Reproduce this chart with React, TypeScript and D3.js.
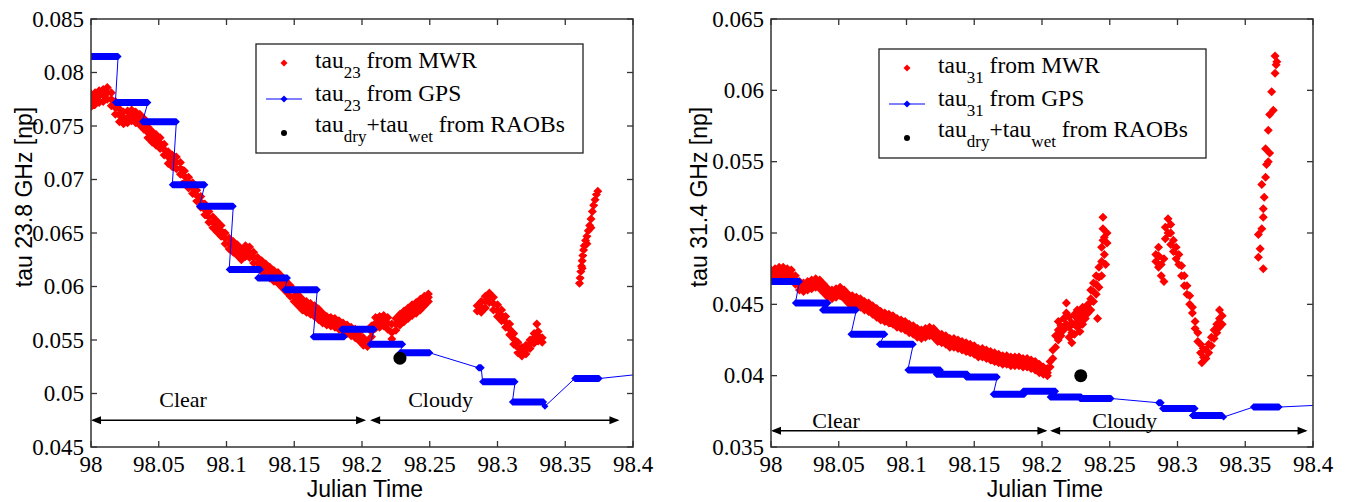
import React from 'react'
import * as d3 from 'd3'

const SERIF = '"Liberation Serif", "Times New Roman", serif'
const SANS = '"Liberation Sans", Arial, sans-serif'

const timeTicks = [98, 98.05, 98.1, 98.15, 98.2, 98.25, 98.3, 98.35, 98.4]
const timeTickLabels = ['98', '98.05', '98.1', '98.15', '98.2', '98.25', '98.3', '98.35', '98.4']
const tau23Ticks = [0.045, 0.05, 0.055, 0.06, 0.065, 0.07, 0.075, 0.08, 0.085]
const tau23TickLabels = ['0.045', '0.05', '0.055', '0.06', '0.065', '0.07', '0.075', '0.08', '0.085']
const tau31Ticks = [0.035, 0.04, 0.045, 0.05, 0.055, 0.06, 0.065]
const tau31TickLabels = ['0.035', '0.04', '0.045', '0.05', '0.055', '0.06', '0.065']

// MWR samples: [julian time, tau samples at that time...]
const mwr23: number[][] = [
  [98.000, 0.0768, 0.0774, 0.0780], [98.003, 0.0770, 0.0776, 0.0781], [98.006, 0.0772, 0.0778, 0.0783],
  [98.009, 0.0773, 0.0779, 0.0784], [98.012, 0.0775, 0.0781, 0.0786], [98.015, 0.0769, 0.0775, 0.0781],
  [98.018, 0.0761, 0.0767, 0.0773], [98.021, 0.0754, 0.0760, 0.0766], [98.024, 0.0752, 0.0757, 0.0763],
  [98.027, 0.0753, 0.0758, 0.0764], [98.030, 0.0755, 0.0760, 0.0765], [98.033, 0.0753, 0.0758, 0.0763],
  [98.036, 0.0751, 0.0756, 0.0761], [98.039, 0.0747, 0.0752, 0.0757], [98.042, 0.0739, 0.0744, 0.0749],
  [98.045, 0.0735, 0.0740, 0.0745], [98.048, 0.0732, 0.0737, 0.0742], [98.051, 0.0729, 0.0734, 0.0739],
  [98.054, 0.0723, 0.0728, 0.0733], [98.057, 0.0715, 0.0721, 0.0726], [98.060, 0.0712, 0.0718, 0.0723],
  [98.063, 0.0710, 0.0716, 0.0721], [98.066, 0.0705, 0.0711, 0.0716], [98.069, 0.0698, 0.0703, 0.0708],
  [98.072, 0.0692, 0.0697, 0.0702], [98.075, 0.0687, 0.0692, 0.0697], [98.078, 0.0680, 0.0685, 0.0690],
  [98.081, 0.0674, 0.0679, 0.0684], [98.084, 0.0667, 0.0672, 0.0677], [98.087, 0.0660, 0.0665, 0.0670],
  [98.090, 0.0655, 0.0660, 0.0665], [98.093, 0.0651, 0.0656, 0.0661], [98.096, 0.0647, 0.0652, 0.0657],
  [98.099, 0.0640, 0.0645, 0.0650], [98.102, 0.0635, 0.0640, 0.0645], [98.105, 0.0632, 0.0637, 0.0642],
  [98.108, 0.0629, 0.0634, 0.0639], [98.111, 0.0625, 0.0630, 0.0635], [98.114, 0.0628, 0.0633, 0.0638],
  [98.117, 0.0627, 0.0632, 0.0637], [98.120, 0.0622, 0.0627, 0.0632], [98.123, 0.0617, 0.0622, 0.0627],
  [98.126, 0.0614, 0.0619, 0.0624], [98.129, 0.0611, 0.0616, 0.0621], [98.132, 0.0608, 0.0613, 0.0618],
  [98.135, 0.0605, 0.0610, 0.0615], [98.138, 0.0603, 0.0608, 0.0613], [98.141, 0.0599, 0.0604, 0.0609],
  [98.144, 0.0595, 0.0600, 0.0605], [98.147, 0.0591, 0.0596, 0.0601], [98.150, 0.0586, 0.0591, 0.0596],
  [98.153, 0.0582, 0.0587, 0.0592], [98.156, 0.0578, 0.0583, 0.0588], [98.159, 0.0576, 0.0581, 0.0586],
  [98.162, 0.0574, 0.0579, 0.0584], [98.165, 0.0572, 0.0577, 0.0582], [98.168, 0.0569, 0.0574, 0.0579],
  [98.171, 0.0566, 0.0570, 0.0575], [98.174, 0.0564, 0.0568, 0.0572], [98.177, 0.0563, 0.0567, 0.0571],
  [98.180, 0.0562, 0.0566, 0.0570], [98.183, 0.0560, 0.0564, 0.0568], [98.186, 0.0558, 0.0562, 0.0566],
  [98.189, 0.0556, 0.0560, 0.0564], [98.192, 0.0554, 0.0558, 0.0562], [98.195, 0.0552, 0.0556, 0.0560],
  [98.198, 0.0549, 0.0553, 0.0557], [98.201, 0.0545, 0.0548, 0.0552], [98.204, 0.0544, 0.0546, 0.0549],
  [98.207, 0.0553, 0.0558, 0.0563], [98.210, 0.0561, 0.0566, 0.0571], [98.213, 0.0562, 0.0567, 0.0572],
  [98.216, 0.0563, 0.0568, 0.0573], [98.219, 0.0560, 0.0566, 0.0571], [98.222, 0.0551, 0.0557, 0.0565],
  [98.225, 0.0559, 0.0565, 0.0570], [98.228, 0.0564, 0.0569, 0.0574], [98.231, 0.0567, 0.0572, 0.0577],
  [98.234, 0.0570, 0.0575, 0.0580], [98.237, 0.0573, 0.0578, 0.0583], [98.240, 0.0575, 0.0580, 0.0585],
  [98.243, 0.0578, 0.0583, 0.0588], [98.246, 0.0582, 0.0587, 0.0591], [98.249, 0.0586, 0.0590, 0.0593],
  [98.285, 0.0577, 0.0582], [98.288, 0.0576, 0.0581, 0.0586], [98.291, 0.0580, 0.0586, 0.0591],
  [98.294, 0.0585, 0.0590, 0.0594], [98.297, 0.0578, 0.0584, 0.0590], [98.300, 0.0572, 0.0577, 0.0583],
  [98.303, 0.0568, 0.0573, 0.0578], [98.306, 0.0562, 0.0567, 0.0572], [98.309, 0.0555, 0.0560, 0.0565],
  [98.312, 0.0546, 0.0551, 0.0556], [98.315, 0.0538, 0.0543, 0.0548], [98.318, 0.0535, 0.0539, 0.0543],
  [98.321, 0.0537, 0.0541, 0.0545], [98.324, 0.0542, 0.0546, 0.0550], [98.327, 0.0547, 0.0552, 0.0556],
  [98.329, 0.0565], [98.330, 0.0549, 0.0554, 0.0558], [98.333, 0.0548, 0.0552],
  [98.3605, 0.0603], [98.361, 0.0608], [98.3615, 0.0614], [98.362, 0.0619], [98.3625, 0.0617, 0.0624],
  [98.363, 0.0629], [98.3635, 0.0634], [98.364, 0.0638], [98.365, 0.0643], [98.366, 0.0640, 0.0647],
  [98.367, 0.0652], [98.368, 0.0657], [98.369, 0.0655, 0.0663], [98.370, 0.0670], [98.371, 0.0676],
  [98.372, 0.0681], [98.373, 0.0686], [98.374, 0.0689],
]

const mwr31: number[][] = [
  [98.000, 0.0468, 0.0471, 0.0474], [98.003, 0.0469, 0.0472, 0.0475], [98.006, 0.0470, 0.0473, 0.0476],
  [98.009, 0.0470, 0.0473, 0.0476], [98.012, 0.0469, 0.0472, 0.0475], [98.015, 0.0468, 0.0471, 0.0474],
  [98.018, 0.0464, 0.0467, 0.0470], [98.021, 0.0460, 0.0463, 0.0466], [98.024, 0.0459, 0.0462, 0.0465],
  [98.027, 0.0460, 0.0463, 0.0466], [98.030, 0.0461, 0.0464, 0.0467], [98.033, 0.0462, 0.0465, 0.0468],
  [98.036, 0.0461, 0.0464, 0.0467], [98.039, 0.0458, 0.0461, 0.0464], [98.042, 0.0455, 0.0458, 0.0461],
  [98.045, 0.0454, 0.0457, 0.0460], [98.048, 0.0455, 0.0458, 0.0461], [98.051, 0.0456, 0.0459, 0.0462],
  [98.054, 0.0454, 0.0457, 0.0460], [98.057, 0.0451, 0.0454, 0.0457], [98.060, 0.0450, 0.0453, 0.0456],
  [98.063, 0.0449, 0.0452, 0.0455], [98.066, 0.0448, 0.0451, 0.0454], [98.069, 0.0446, 0.0449, 0.0452],
  [98.072, 0.0445, 0.0448, 0.0451], [98.075, 0.0443, 0.0446, 0.0449], [98.078, 0.0441, 0.0444, 0.0447],
  [98.081, 0.0439, 0.0442, 0.0445], [98.084, 0.0438, 0.0441, 0.0444], [98.087, 0.0437, 0.0440, 0.0443],
  [98.090, 0.0436, 0.0439, 0.0442], [98.093, 0.0434, 0.0437, 0.0440], [98.096, 0.0433, 0.0436, 0.0439],
  [98.099, 0.0432, 0.0435, 0.0438], [98.102, 0.0430, 0.0433, 0.0436], [98.105, 0.0429, 0.0432, 0.0435],
  [98.108, 0.0427, 0.0430, 0.0433], [98.111, 0.0426, 0.0429, 0.0432], [98.114, 0.0427, 0.0430, 0.0433],
  [98.117, 0.0428, 0.0431, 0.0434], [98.120, 0.0427, 0.0430, 0.0433], [98.123, 0.0424, 0.0427, 0.0430],
  [98.126, 0.0423, 0.0426, 0.0429], [98.129, 0.0422, 0.0425, 0.0428], [98.132, 0.0420, 0.0423, 0.0426],
  [98.135, 0.0420, 0.0423, 0.0426], [98.138, 0.0419, 0.0422, 0.0425], [98.141, 0.0418, 0.0421, 0.0424],
  [98.144, 0.0417, 0.0420, 0.0423], [98.147, 0.0416, 0.0419, 0.0422], [98.150, 0.0415, 0.0418, 0.0421],
  [98.153, 0.0413, 0.0416, 0.0419], [98.156, 0.0413, 0.0416, 0.0419], [98.159, 0.0412, 0.0415, 0.0418],
  [98.162, 0.0411, 0.0414, 0.0417], [98.165, 0.0410, 0.0413, 0.0416], [98.168, 0.0409, 0.0412, 0.0415],
  [98.171, 0.0408, 0.0411, 0.0414], [98.174, 0.0408, 0.0411, 0.0414], [98.177, 0.0407, 0.0410, 0.0413],
  [98.180, 0.0407, 0.0410, 0.0413], [98.183, 0.0407, 0.0410, 0.0413], [98.186, 0.0406, 0.0409, 0.0412],
  [98.189, 0.0406, 0.0409, 0.0412], [98.192, 0.0405, 0.0408, 0.0411], [98.195, 0.0404, 0.0407, 0.0410],
  [98.198, 0.0402, 0.0405, 0.0408], [98.201, 0.0401, 0.0403, 0.0406], [98.204, 0.0400, 0.0402, 0.0405],
  [98.206, 0.0406, 0.0410], [98.208, 0.0412, 0.0418], [98.210, 0.0420, 0.0428], [98.212, 0.0425, 0.0432, 0.0438],
  [98.214, 0.0428, 0.0435], [98.216, 0.0432, 0.0440], [98.218, 0.0436, 0.0444, 0.0451], [98.220, 0.0427, 0.0434, 0.0441],
  [98.222, 0.0423, 0.0430, 0.0437], [98.224, 0.0429, 0.0436, 0.0443], [98.226, 0.0434, 0.0440, 0.0446],
  [98.228, 0.0431, 0.0438, 0.0445], [98.230, 0.0436, 0.0442, 0.0448], [98.232, 0.0440, 0.0446],
  [98.234, 0.0444, 0.0450], [98.236, 0.0446, 0.0454, 0.0460], [98.238, 0.0452, 0.0459, 0.0465],
  [98.240, 0.0457, 0.0464, 0.0470], [98.241, 0.0440], [98.242, 0.0462, 0.0469, 0.0476],
  [98.244, 0.0470, 0.0480, 0.0490], [98.245, 0.0495, 0.0503, 0.0511], [98.246, 0.0485, 0.0497],
  [98.247, 0.0478], [98.248, 0.0493, 0.0500],
  [98.284, 0.0480, 0.0485], [98.286, 0.0476, 0.0484, 0.0490], [98.288, 0.0470, 0.0478], [98.290, 0.0466, 0.0482],
  [98.291, 0.0496, 0.0504], [98.293, 0.0500, 0.0510], [98.295, 0.0492, 0.0500, 0.0506], [98.297, 0.0487, 0.0495],
  [98.299, 0.0482, 0.0490], [98.301, 0.0478, 0.0485], [98.303, 0.0470, 0.0477], [98.305, 0.0463, 0.0470],
  [98.307, 0.0457, 0.0463], [98.309, 0.0450, 0.0456], [98.311, 0.0444, 0.0448], [98.313, 0.0433, 0.0438],
  [98.315, 0.0424, 0.0430], [98.317, 0.0416, 0.0422], [98.318, 0.0409], [98.319, 0.0413, 0.0419],
  [98.321, 0.0412, 0.0418], [98.323, 0.0416, 0.0422], [98.325, 0.0421, 0.0427], [98.327, 0.0426, 0.0432],
  [98.329, 0.0430, 0.0436], [98.331, 0.0434, 0.0440, 0.0446], [98.333, 0.0436, 0.0442],
  [98.3633, 0.0475], [98.3597, 0.0483], [98.361, 0.0489], [98.3597, 0.0499], [98.3622, 0.0503],
  [98.3633, 0.0511], [98.3633, 0.0517], [98.364, 0.0525], [98.3622, 0.0534], [98.365, 0.0539],
  [98.3657, 0.0548], [98.367, 0.0550], [98.365, 0.0559], [98.368, 0.0556], [98.367, 0.0572],
  [98.368, 0.0583], [98.3707, 0.0586], [98.3695, 0.0599], [98.372, 0.0612], [98.3728, 0.0618],
  [98.372, 0.0624], [98.3733, 0.0620],
]

// GPS retrievals: [start time, end time, tau] held constant over each batch
const gps23: number[][] = [
  [98.000, 98.020, 0.0815], [98.018, 98.042, 0.0772], [98.038, 98.063, 0.0754], [98.060, 98.084, 0.0695],
  [98.080, 98.105, 0.0675], [98.102, 98.125, 0.0616], [98.123, 98.145, 0.0608], [98.143, 98.167, 0.0597],
  [98.164, 98.187, 0.0553], [98.185, 98.209, 0.0560], [98.206, 98.230, 0.0546], [98.228, 98.250, 0.0538],
  [98.286, 98.288, 0.0524], [98.289, 98.313, 0.0511], [98.311, 98.334, 0.0492], [98.335, 98.335, 0.0488],
  [98.357, 98.375, 0.0514], [98.420, 98.440, 0.0520],
]
const gps31: number[][] = [
  [98.000, 98.021, 0.0466], [98.018, 98.042, 0.0451], [98.038, 98.063, 0.0446], [98.059, 98.084, 0.0429],
  [98.080, 98.105, 0.0422], [98.101, 98.125, 0.0404], [98.122, 98.145, 0.0401], [98.144, 98.167, 0.0399],
  [98.164, 98.187, 0.0387], [98.186, 98.210, 0.0389], [98.206, 98.229, 0.0385], [98.228, 98.251, 0.0384],
  [98.286, 98.288, 0.0381], [98.289, 98.313, 0.0377], [98.311, 98.333, 0.0372], [98.334, 98.334, 0.0371],
  [98.356, 98.375, 0.0378], [98.420, 98.440, 0.0380],
]

const raob23 = [98.228, 0.0533]
const raob31 = [98.2286, 0.0400]

// sky condition periods: label, from, to, label centre
const periods23: [string, number, number, number][] = [['Clear', 98.0, 98.203, 98.068], ['Cloudy', 98.206, 98.39, 98.258]]
const periods31: [string, number, number, number][] = [['Clear', 98.0, 98.204, 98.048], ['Cloudy', 98.206, 98.396, 98.261]]

const diamond = (cx: number, cy: number, r: number) =>
  `M${cx},${cy - r}L${cx + r},${cy}L${cx},${cy + r}L${cx - r},${cy}Z`

function Legend({ left, top, sub }: { left: number; top: number; sub: string }) {
  const tx = left + 59
  const mx = left + 28
  return (
    <g fontFamily={SERIF} fontSize={23.5} fill="#000">
      <rect x={left} y={top} width={327} height={109} fill="#fff" stroke="#222" strokeWidth={1.3} />
      <path d={diamond(mx, top + 19, 3.5)} fill="#ff0000" />
      <line x1={left + 10} x2={left + 46} y1={top + 55} y2={top + 55} stroke="#0000ff" strokeWidth={1} />
      <path d={diamond(mx, top + 55, 3.5)} fill="#0000ff" />
      <circle cx={mx} cy={top + 89} r={3} fill="#000" />
      <text x={tx} y={top + 24}>
        tau<tspan dy={10} fontSize={17}>{sub}</tspan><tspan dy={-10}> from MWR</tspan>
      </text>
      <text x={tx} y={top + 57}>
        tau<tspan dy={10} fontSize={17}>{sub}</tspan><tspan dy={-10}> from GPS</tspan>
      </text>
      <text x={tx} y={top + 88}>
        tau<tspan dy={10} fontSize={17}>dry</tspan><tspan dy={-10}>+tau</tspan>
        <tspan dy={10} fontSize={17}>wet</tspan><tspan dy={-10}> from RAOBs</tspan>
      </text>
    </g>
  )
}

function Panel(props: {
  id: string; left: number; top: number; width: number; height: number
  yDomain: [number, number]; yTicks: number[]; yTickLabels: string[]; yLabel: string; sub: string
  mwr: number[][]; gps: number[][]; raob: number[]
  periods: [string, number, number, number][]; arrowTau: number; textLift: number
  legendLeft: number; legendTop: number; yLabelX: number
}) {
  const { id, left, top, width, height } = props
  const x = d3.scaleLinear().domain([98, 98.4]).range([left, left + width])
  const y = d3.scaleLinear().domain(props.yDomain).range([top + height, top])
  const bottom = top + height
  const right = left + width

  const redPath = props.mwr
    .map(([t, ...vals]) => vals.map((v) => diamond(x(t), y(v), 4.5)).join(''))
    .join('')
  const gpsLine = d3.line()(props.gps.flatMap(([a, b, v]) => [[x(a), y(v)], [x(b), y(v)]] as [number, number][]))
  const r = 3.5
  const gpsBars = props.gps
    .map(([a, b, v]) => {
      const xa = x(a), xb = x(b), yy = y(v)
      return `M${xa - r},${yy}L${xa},${yy - r}L${xb},${yy - r}L${xb + r},${yy}L${xb},${yy + r}L${xa},${yy + r}Z`
    })
    .join('')

  const ay = y(props.arrowTau)
  const head = (px: number, dir: number) =>
    `M${px},${ay}L${px - dir * 10},${ay - 4}L${px - dir * 10},${ay + 4}Z`

  return (
    <g>
      <defs>
        <clipPath id={id}>
          <rect x={left} y={top} width={width} height={height} />
        </clipPath>
      </defs>
      <g clipPath={`url(#${id})`}>
        <path d={redPath} fill="#ff0000" />
        <path d={gpsLine ?? ''} fill="none" stroke="#0000ff" strokeWidth={1} />
        <path d={gpsBars} fill="#0000ff" />
        <circle cx={x(props.raob[0])} cy={y(props.raob[1])} r={6.5} fill="#000" />
      </g>

      {props.periods.map(([label, from, to, at]) => (
        <g key={label}>
          <line x1={x(from) + 2} x2={x(to) - 2} y1={ay} y2={ay} stroke="#000" strokeWidth={1.3} />
          <path d={head(x(from), -1) + head(x(to), 1)} fill="#000" />
          <text x={x(at)} y={ay - props.textLift} textAnchor="middle" fontFamily={SERIF} fontSize={22}>
            {label}
          </text>
        </g>
      ))}

      <rect x={left} y={top} width={width} height={height} fill="none" stroke="#333" strokeWidth={1.5} />
      {timeTicks.map((t, i) => (
        <g key={`x${i}`}>
          <line x1={x(t)} x2={x(t)} y1={bottom} y2={bottom - 6} stroke="#333" strokeWidth={1.3} />
          <line x1={x(t)} x2={x(t)} y1={top} y2={top + 6} stroke="#333" strokeWidth={1.3} />
          <text x={x(t)} y={bottom + 25} textAnchor="middle" fontFamily={SERIF} fontSize={23}>
            {timeTickLabels[i]}
          </text>
        </g>
      ))}
      {props.yTicks.map((v, i) => (
        <g key={`y${i}`}>
          <line x1={left} x2={left + 6} y1={y(v)} y2={y(v)} stroke="#333" strokeWidth={1.3} />
          <line x1={right} x2={right - 6} y1={y(v)} y2={y(v)} stroke="#333" strokeWidth={1.3} />
          <text x={left - 7} y={y(v) + 7.5} textAnchor="end" fontFamily={SERIF} fontSize={23}>
            {props.yTickLabels[i]}
          </text>
        </g>
      ))}

      <text x={(left + right) / 2 + 3} y={497} textAnchor="middle" fontFamily={SANS} fontSize={23}>
        Julian Time
      </text>
      <text
        transform={`translate(${props.yLabelX},197) rotate(-90)`}
        textAnchor="middle"
        fontFamily={SANS}
        fontSize={23}
      >
        {props.yLabel}
      </text>

      <Legend left={props.legendLeft} top={props.legendTop} sub={props.sub} />
    </g>
  )
}

export default function App() {
  return (
    <svg
      width={1345}
      height={502}
      viewBox="0 0 1345 502"
      style={{ position: 'absolute', left: 0, top: 0, background: '#fff' }}
    >
      <rect width={1345} height={502} fill="#fff" />
      <Panel
        id="clip23" left={91} top={19} width={542} height={428}
        yDomain={[0.045, 0.085]} yTicks={tau23Ticks} yTickLabels={tau23TickLabels}
        yLabel="tau 23.8 GHz [np]" sub="23"
        mwr={mwr23} gps={gps23} raob={raob23}
        periods={periods23} arrowTau={0.0475} textLift={13}
        legendLeft={256} legendTop={44} yLabelX={32}
      />
      <Panel
        id="clip31" left={771} top={19} width={542} height={428}
        yDomain={[0.035, 0.065]} yTicks={tau31Ticks} yTickLabels={tau31TickLabels}
        yLabel="tau 31.4 GHz [np]" sub="31"
        mwr={mwr31} gps={gps31} raob={raob31}
        periods={periods31} arrowTau={0.03614} textLift={3}
        legendLeft={879} legendTop={49} yLabelX={707}
      />
    </svg>
  )
}
